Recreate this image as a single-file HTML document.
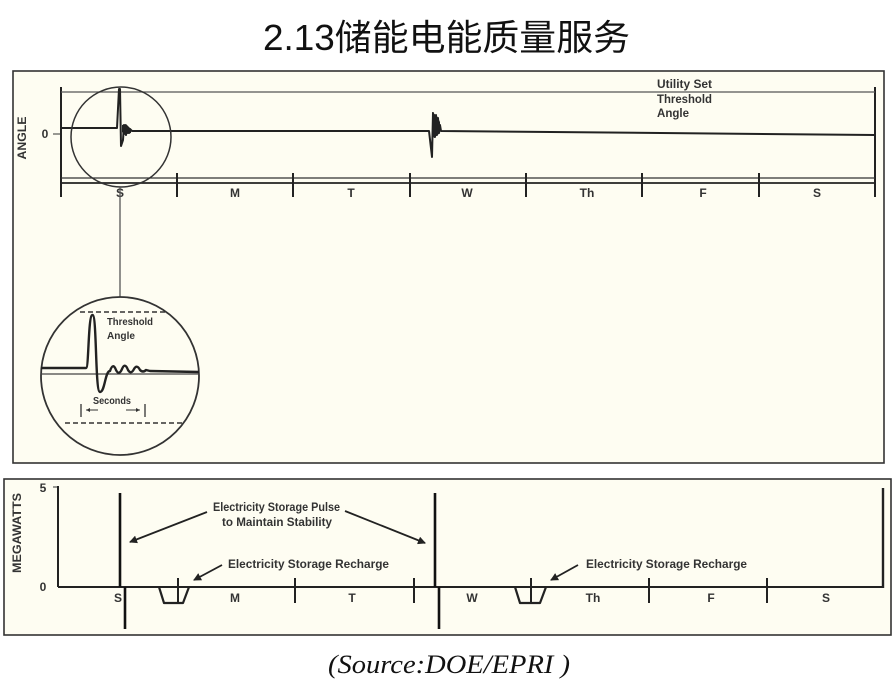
<!DOCTYPE html>
<html><head><meta charset="utf-8"><style>
html,body{margin:0;padding:0;background:#fff;}
svg{display:block;}
.l{font-family:"Liberation Sans",sans-serif;font-weight:bold;fill:#333;}
</style></head><body>
<svg width="896" height="700" viewBox="0 0 896 700" xmlns="http://www.w3.org/2000/svg">
<defs>
<marker id="ah" markerWidth="8" markerHeight="8" refX="7" refY="4" orient="auto" markerUnits="userSpaceOnUse">
<path d="M0,0 L8,4 L0,8 Z" fill="#222"/>
</marker>
</defs>
<rect x="0" y="0" width="896" height="700" fill="#fff"/>
<!-- Title -->
<text x="263" y="50" font-family="'Liberation Sans','Noto Sans CJK SC',sans-serif" font-size="36" fill="#111" textLength="367" lengthAdjust="spacingAndGlyphs">2.13储能电能质量服务</text>

<!-- Top panel -->
<rect x="13" y="71" width="871" height="392" fill="#fefdf2" stroke="#333" stroke-width="1.6"/>
<text class="l" font-size="12" transform="translate(26,138) rotate(-90)" text-anchor="middle" textLength="43" lengthAdjust="spacingAndGlyphs">ANGLE</text>
<text class="l" x="45" y="138" font-size="12" text-anchor="middle">0</text>
<line x1="53" y1="134" x2="61" y2="134" stroke="#333" stroke-width="1"/>
<line x1="61" y1="87" x2="61" y2="197" stroke="#222" stroke-width="2"/>
<line x1="875" y1="87" x2="875" y2="197" stroke="#222" stroke-width="2"/>
<line x1="61" y1="92" x2="875" y2="92" stroke="#555" stroke-width="1.2"/>
<text class="l" x="657" y="88" font-size="12" fill="#444" textLength="55" lengthAdjust="spacingAndGlyphs">Utility Set</text>
<text class="l" x="657" y="103" font-size="12" fill="#444" textLength="55" lengthAdjust="spacingAndGlyphs">Threshold</text>
<text class="l" x="657" y="117" font-size="12" fill="#444" textLength="32" lengthAdjust="spacingAndGlyphs">Angle</text>
<!-- time axis -->
<line x1="61" y1="178" x2="875" y2="178" stroke="#333" stroke-width="1.3"/>
<line x1="61" y1="183" x2="875" y2="183" stroke="#222" stroke-width="1.8"/>
<g stroke="#222" stroke-width="2">
<line x1="177" y1="173" x2="177" y2="197"/>
<line x1="293" y1="173" x2="293" y2="197"/>
<line x1="410" y1="173" x2="410" y2="197"/>
<line x1="526" y1="173" x2="526" y2="197"/>
<line x1="642" y1="173" x2="642" y2="197"/>
<line x1="759" y1="173" x2="759" y2="197"/>
</g>
<g class="l" font-size="12" text-anchor="middle">
<text x="120" y="197">S</text>
<text x="235" y="197">M</text>
<text x="351" y="197">T</text>
<text x="467" y="197">W</text>
<text x="587" y="197">Th</text>
<text x="703" y="197">F</text>
<text x="817" y="197">S</text>
</g>
<!-- signal -->
<polyline fill="none" stroke="#222" stroke-width="2" stroke-linejoin="round" points="61,128 117,128 119,89 120,89 121,146 123,140 124,125 126,135 127,127 129,133 130,129 132,131 410,131 429,131 432,157 433,113 435,137 436,115 437,135 438,118 439,133 440,125 441,131 875,135"/>
<polygon points="122,125 126,124 131,129 131,133 124,135 122,132" fill="#222"/>
<polygon points="432,112 437,116 440,122 440,133 434,138 432,134" fill="#222"/>
<!-- small circle -->
<circle cx="121" cy="137" r="50" fill="none" stroke="#333" stroke-width="1.5"/>
<line x1="120" y1="187" x2="120" y2="297" stroke="#555" stroke-width="1.3"/>
<!-- zoom circle -->
<circle cx="120" cy="376" r="79" fill="none" stroke="#333" stroke-width="1.8"/>
<line x1="80" y1="312" x2="165" y2="312" stroke="#333" stroke-width="1.5" stroke-dasharray="5,3"/>
<line x1="65" y1="423" x2="183" y2="423" stroke="#333" stroke-width="1.5" stroke-dasharray="5,3"/>
<line x1="41" y1="374" x2="199" y2="374" stroke="#444" stroke-width="1.3"/>
<path d="M41,368 L86,368 C89,368 88,315 92.5,315 C97,315 95,392 100,392 C105,392 105,371 110,371 Q113,362 116,370 Q119,376 122,369 Q125,362 128,370 Q131,375 134,369 Q137,364 140,370 Q143,373 146,370 L150,371 L199,372" fill="none" stroke="#222" stroke-width="2.4" stroke-linejoin="round"/>
<text class="l" x="107" y="325" font-size="10" fill="#555" textLength="46" lengthAdjust="spacingAndGlyphs">Threshold</text>
<text class="l" x="107" y="339" font-size="10" fill="#555" textLength="28" lengthAdjust="spacingAndGlyphs">Angle</text>
<text class="l" x="93" y="404" font-size="10" fill="#444" textLength="38" lengthAdjust="spacingAndGlyphs">Seconds</text>
<line x1="81" y1="404" x2="81" y2="417" stroke="#333" stroke-width="1.3"/>
<line x1="145" y1="404" x2="145" y2="417" stroke="#333" stroke-width="1.3"/>
<line x1="86" y1="410" x2="98" y2="410" stroke="#333" stroke-width="1"/>
<path d="M86,410 L90,408 L90,412 Z" fill="#333"/>
<line x1="126" y1="410" x2="140" y2="410" stroke="#333" stroke-width="1"/>
<path d="M140,410 L136,408 L136,412 Z" fill="#333"/>

<!-- Bottom panel -->
<rect x="4" y="479" width="887" height="156" fill="#fefdf2" stroke="#333" stroke-width="1.6"/>
<text class="l" font-size="12" transform="translate(21,533) rotate(-90)" text-anchor="middle" textLength="80" lengthAdjust="spacingAndGlyphs">MEGAWATTS</text>
<text class="l" x="43" y="492" font-size="12" text-anchor="middle">5</text>
<text class="l" x="43" y="591" font-size="12" text-anchor="middle">0</text>
<line x1="53" y1="487" x2="58" y2="487" stroke="#333" stroke-width="1"/>
<line x1="58" y1="486" x2="58" y2="587" stroke="#222" stroke-width="2"/>
<line x1="58" y1="587" x2="884" y2="587" stroke="#222" stroke-width="2"/>
<line x1="883" y1="488" x2="883" y2="588" stroke="#222" stroke-width="2.4"/>
<!-- pulses -->
<g stroke="#111" stroke-width="2.6">
<line x1="120" y1="493" x2="120" y2="587"/>
<line x1="125" y1="587" x2="125" y2="629"/>
<line x1="435" y1="493" x2="435" y2="587"/>
<line x1="439" y1="587" x2="439" y2="629"/>
</g>
<g stroke="#222" stroke-width="2">
<line x1="295" y1="578" x2="295" y2="603"/>
<line x1="414" y1="578" x2="414" y2="603"/>
<line x1="649" y1="578" x2="649" y2="603"/>
<line x1="767" y1="578" x2="767" y2="603"/>
<line x1="178" y1="578" x2="178" y2="603"/>
<line x1="531" y1="578" x2="531" y2="603"/>
</g>
<polyline points="159,587 164,603 183,603 189,587" fill="none" stroke="#222" stroke-width="2.2" stroke-linejoin="round"/>
<polyline points="515,587 520,603 540,603 546,587" fill="none" stroke="#222" stroke-width="2.2" stroke-linejoin="round"/>
<g class="l" font-size="12" text-anchor="middle">
<text x="118" y="602">S</text>
<text x="235" y="602">M</text>
<text x="352" y="602">T</text>
<text x="472" y="602">W</text>
<text x="593" y="602">Th</text>
<text x="711" y="602">F</text>
<text x="826" y="602">S</text>
</g>
<text class="l" x="213" y="511" font-size="12" textLength="127" lengthAdjust="spacingAndGlyphs">Electricity Storage Pulse</text>
<text class="l" x="222" y="526" font-size="12" textLength="110" lengthAdjust="spacingAndGlyphs">to Maintain Stability</text>
<text class="l" x="228" y="568" font-size="12" textLength="161" lengthAdjust="spacingAndGlyphs">Electricity Storage Recharge</text>
<text class="l" x="586" y="568" font-size="12" textLength="161" lengthAdjust="spacingAndGlyphs">Electricity Storage Recharge</text>
<g stroke="#222" stroke-width="1.8" marker-end="url(#ah)">
<line x1="207" y1="512" x2="130" y2="542"/>
<line x1="345" y1="511" x2="425" y2="543"/>
<line x1="222" y1="565" x2="194" y2="580"/>
<line x1="578" y1="565" x2="551" y2="580"/>
</g>

<!-- Source -->
<text x="328" y="673" font-family="'Liberation Serif',serif" font-style="italic" font-size="26" fill="#111" textLength="242" lengthAdjust="spacingAndGlyphs">(Source:DOE/EPRI )</text>
</svg>
</body></html>
